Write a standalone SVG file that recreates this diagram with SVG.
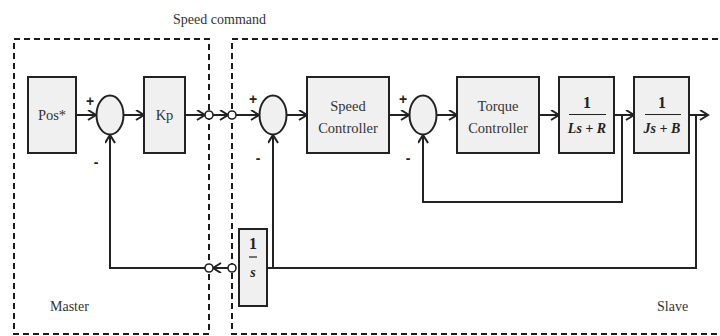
<svg xmlns="http://www.w3.org/2000/svg" width="720" height="336" viewBox="0 0 720 336">
  <style>
    .zone { fill: none; stroke: #1a1a1a; stroke-width: 2; stroke-dasharray: 6 4; }
    .blk { fill: #f0f0f0; stroke: #222; stroke-width: 2; }
    .sum { fill: #f0f0f0; stroke: #222; stroke-width: 2; }
    .port { fill: #fff; stroke: #222; stroke-width: 1.6; }
    .wire { fill: none; stroke: #222; stroke-width: 2; }
    .arr { marker-end: url(#chev); }
    .txt { font-family: "Liberation Serif", "Times New Roman", serif; font-size: 14px; fill: #333; }
    .lbl { font-family: "Liberation Serif", "Times New Roman", serif; font-size: 14.5px; fill: #333; text-anchor: middle; }
    .sign { font-family: "Liberation Sans", Arial, sans-serif; font-size: 14px; font-weight: bold; fill: #222; text-anchor: middle; }
    .frac { font-family: "Liberation Serif", "Times New Roman", serif; font-weight: bold; fill: #222; text-anchor: middle; }
    .fl { stroke: #222; stroke-width: 1.2; }
  </style>
  <defs>
    <marker id="chev" markerUnits="userSpaceOnUse" markerWidth="12" markerHeight="12" refX="9" refY="5" orient="auto">
      <path d="M1,0 L9,5 L1,10" fill="none" stroke="#222" stroke-width="2"/>
    </marker>
  </defs>

  <rect width="720" height="336" fill="#fff"/>

  <!-- master / slave zones -->
  <g id="master-zone">
    <rect class="zone" x="14" y="39" width="195" height="295"/>
    <text class="txt" x="50" y="311">Master</text>
  </g>
  <g id="slave-zone">
    <rect class="zone" x="232" y="39" width="500" height="295"/>
    <text class="txt" x="657" y="311">Slave</text>
  </g>
  <text class="txt" x="173" y="24" textLength="93">Speed command</text>

  <!-- connectors -->
  <g id="connectors">
    <line class="wire arr" x1="76" y1="115" x2="96" y2="115"/>
    <line class="wire arr" x1="124" y1="115" x2="144" y2="115"/>
    <line class="wire arr" x1="185" y1="115" x2="205" y2="115"/>
    <line class="wire arr" x1="213" y1="115" x2="228" y2="115"/>
    <line class="wire arr" x1="236" y1="115" x2="259" y2="115"/>
    <line class="wire arr" x1="287" y1="115" x2="307" y2="115"/>
    <line class="wire arr" x1="389" y1="115" x2="409" y2="115"/>
    <line class="wire arr" x1="437" y1="115" x2="457" y2="115"/>
    <line class="wire arr" x1="539" y1="115" x2="559" y2="115"/>
    <line class="wire arr" x1="614" y1="115" x2="634" y2="115"/>
    <line class="wire arr" x1="689" y1="115" x2="708" y2="115"/>
    <!-- current loop -->
    <polyline class="wire arr" points="622,115 622,202 423,202 423,135"/>
    <!-- speed and position loops -->
    <polyline class="wire" points="696,115 696,268 267,268"/>
    <line class="wire arr" x1="273" y1="268" x2="273" y2="135"/>
    <line class="wire arr" x1="228" y1="268" x2="213" y2="268"/>
    <polyline class="wire arr" points="205,268 110,268 110,135"/>
  </g>

  <!-- ports on the zone boundary -->
  <g id="ports">
    <circle class="port" cx="209" cy="115" r="4"/>
    <circle class="port" cx="232" cy="115" r="4"/>
    <circle class="port" cx="209" cy="268" r="4"/>
    <circle class="port" cx="232" cy="268" r="4"/>
  </g>

  <g id="pos-ref">
    <rect class="blk" x="28" y="77" width="48" height="76"/>
    <text class="lbl" x="52" y="120">Pos*</text>
  </g>
  <g id="sum-pos">
    <ellipse class="sum" cx="110" cy="115" rx="13.5" ry="19.5"/>
    <text class="sign" x="90" y="106">+</text>
    <text class="sign" x="96" y="167">-</text>
  </g>
  <g id="kp">
    <rect class="blk" x="144" y="77" width="41" height="76"/>
    <text class="lbl" x="164.5" y="120">Kp</text>
  </g>
  <g id="sum-speed">
    <ellipse class="sum" cx="273" cy="115" rx="13.5" ry="19.5"/>
    <text class="sign" x="253" y="104">+</text>
    <text class="sign" x="258" y="163">-</text>
  </g>
  <g id="speed-controller">
    <rect class="blk" x="307" y="77" width="82" height="76"/>
    <text class="lbl" x="348" y="111">Speed</text>
    <text class="lbl" x="348" y="133">Controller</text>
  </g>
  <g id="sum-torque">
    <ellipse class="sum" cx="423" cy="115" rx="13.5" ry="19.5"/>
    <text class="sign" x="403" y="104">+</text>
    <text class="sign" x="408" y="163">-</text>
  </g>
  <g id="torque-controller">
    <rect class="blk" x="457" y="77" width="82" height="76"/>
    <text class="lbl" x="498" y="111">Torque</text>
    <text class="lbl" x="498" y="133">Controller</text>
  </g>
  <g id="electrical">
    <rect class="blk" x="559" y="77" width="55" height="76"/>
    <text class="frac" x="587" y="108" font-size="16">1</text>
    <line class="fl" x1="569" y1="114.5" x2="606" y2="114.5"/>
    <text class="frac" x="587" y="133" font-size="14" font-style="italic">Ls + R</text>
  </g>
  <g id="mechanical">
    <rect class="blk" x="634" y="77" width="55" height="76"/>
    <text class="frac" x="662" y="108" font-size="16">1</text>
    <line class="fl" x1="645" y1="114.5" x2="681" y2="114.5"/>
    <text class="frac" x="662" y="133" font-size="14" font-style="italic">Js + B</text>
  </g>
  <g id="integrator">
    <rect class="blk" x="239" y="229" width="28" height="77"/>
    <text class="frac" x="253" y="249" font-size="16">1</text>
    <line class="fl" x1="249" y1="257" x2="257" y2="257"/>
    <text class="frac" x="253" y="277" font-size="14" font-style="italic">s</text>
  </g>
</svg>
